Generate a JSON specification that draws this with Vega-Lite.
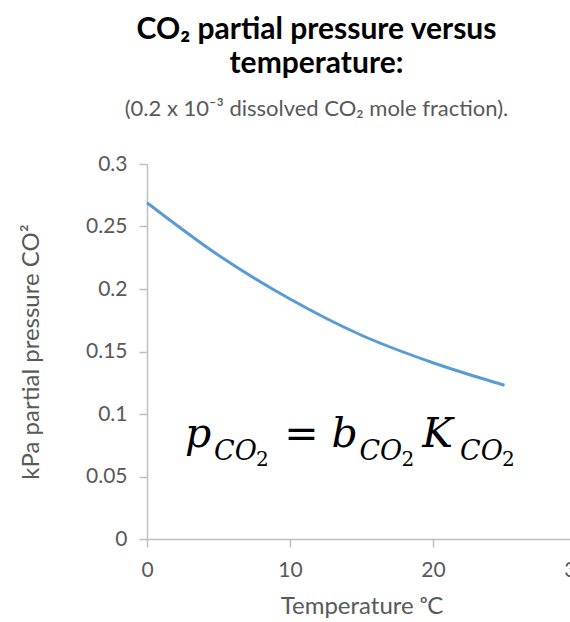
{
  "$schema": "https://vega.github.io/schema/vega-lite/v6.json",
  "autosize": {"type": "none"},
  "padding": {"left": 147, "top": 164, "right": 0, "bottom": 83},
  "width": 423,
  "height": 375,
  "background": "white",
  "config": {"view": {"stroke": null}, "font": "Lato"},
  "title": {
    "text": ["CO₂ partial pressure versus", "temperature:"],
    "subtitle": "(0.2 x 10⁻³ dissolved CO₂ mole fraction).",
    "anchor": "middle",
    "frame": "group",
    "dx": -42,
    "font": "Lato",
    "fontSize": 30,
    "fontWeight": "bold",
    "color": "#000000",
    "lineHeight": 34,
    "subtitleFont": "Lato",
    "subtitleFontSize": 22,
    "subtitleColor": "#595959",
    "subtitlePadding": 20,
    "offset": 33
  },
  "datasets": {
    "curve": [
      {"temp": 0, "p": 0.269},
      {"temp": 5, "p": 0.227},
      {"temp": 10, "p": 0.192},
      {"temp": 15, "p": 0.163},
      {"temp": 20, "p": 0.141},
      {"temp": 25, "p": 0.123}
    ],
    "eq": [
      {"t": "p", "kind": "main", "x": 2.657, "y": 0.0736},
      {"t": "=", "kind": "main", "x": 9.6, "y": 0.0736},
      {"t": "b", "kind": "main", "x": 12.9, "y": 0.0736},
      {"t": "K", "kind": "main", "x": 19.25, "y": 0.0736},
      {"t": "CO", "kind": "sub", "x": 4.685, "y": 0.0632},
      {"t": "CO", "kind": "sub", "x": 14.855, "y": 0.0632},
      {"t": "CO", "kind": "sub", "x": 21.888, "y": 0.0632},
      {"t": "2", "kind": "subsub", "x": 7.622, "y": 0.0584},
      {"t": "2", "kind": "subsub", "x": 17.792, "y": 0.0584},
      {"t": "2", "kind": "subsub", "x": 24.825, "y": 0.0584}
    ]
  },
  "layer": [
    {
      "data": {"name": "curve"},
      "mark": {"type": "line", "interpolate": "monotone", "color": "#5B9BD5", "strokeWidth": 3},
      "encoding": {
        "x": {
          "field": "temp", "type": "quantitative",
          "scale": {"domain": [0, 30], "range": [0, 429], "nice": false},
          "axis": {
            "values": [0, 10, 20, 30],
            "grid": false,
            "domainColor": "#bfbfbf",
            "domainWidth": 1.5,
            "tickColor": "#bfbfbf",
            "tickWidth": 1.5,
            "tickSize": 8,
            "labelFont": "Lato",
            "labelFontSize": 21,
            "labelColor": "#595959",
            "labelPadding": 12,
            "labelFlush": false,
            "labelOverlap": false,
            "title": "Temperature ᵒC",
            "titleFont": "Lato",
            "titleFontSize": 24,
            "titleFontWeight": "normal",
            "titleColor": "#595959",
            "titlePadding": 14,
            "titleX": 214.5
          }
        },
        "y": {
          "field": "p", "type": "quantitative",
          "scale": {"domain": [0, 0.3], "nice": false},
          "axis": {
            "values": [0, 0.05, 0.1, 0.15, 0.2, 0.25, 0.3],
            "format": "~g",
            "grid": false,
            "domainColor": "#bfbfbf",
            "domainWidth": 1.5,
            "tickColor": "#bfbfbf",
            "tickWidth": 1.5,
            "tickSize": 8,
            "labelFont": "Lato",
            "labelFontSize": 21,
            "labelColor": "#595959",
            "labelPadding": 12,
            "labelFlush": false,
            "labelOverlap": false,
            "title": "kPa partial pressure CO²",
            "titleFont": "Lato",
            "titleFontSize": 24,
            "titleFontWeight": "normal",
            "titleColor": "#595959",
            "titlePadding": 42
          }
        }
      }
    },
    {
      "data": {"name": "eq"},
      "transform": [{"filter": "datum.kind == 'main'"}],
      "mark": {"type": "text", "font": "DejaVu Serif", "fontStyle": "italic", "fontSize": 41, "align": "left", "baseline": "alphabetic", "color": "#000000"},
      "encoding": {
        "x": {"field": "x", "type": "quantitative"},
        "y": {"field": "y", "type": "quantitative"},
        "text": {"field": "t"}
      }
    },
    {
      "data": {"name": "eq"},
      "transform": [{"filter": "datum.kind == 'sub'"}],
      "mark": {"type": "text", "font": "DejaVu Serif", "fontStyle": "italic", "fontSize": 27, "align": "left", "baseline": "alphabetic", "color": "#000000"},
      "encoding": {
        "x": {"field": "x", "type": "quantitative"},
        "y": {"field": "y", "type": "quantitative"},
        "text": {"field": "t"}
      }
    },
    {
      "data": {"name": "eq"},
      "transform": [{"filter": "datum.kind == 'subsub'"}],
      "mark": {"type": "text", "font": "DejaVu Serif", "fontSize": 20, "align": "left", "baseline": "alphabetic", "color": "#000000"},
      "encoding": {
        "x": {"field": "x", "type": "quantitative"},
        "y": {"field": "y", "type": "quantitative"},
        "text": {"field": "t"}
      }
    }
  ]
}
